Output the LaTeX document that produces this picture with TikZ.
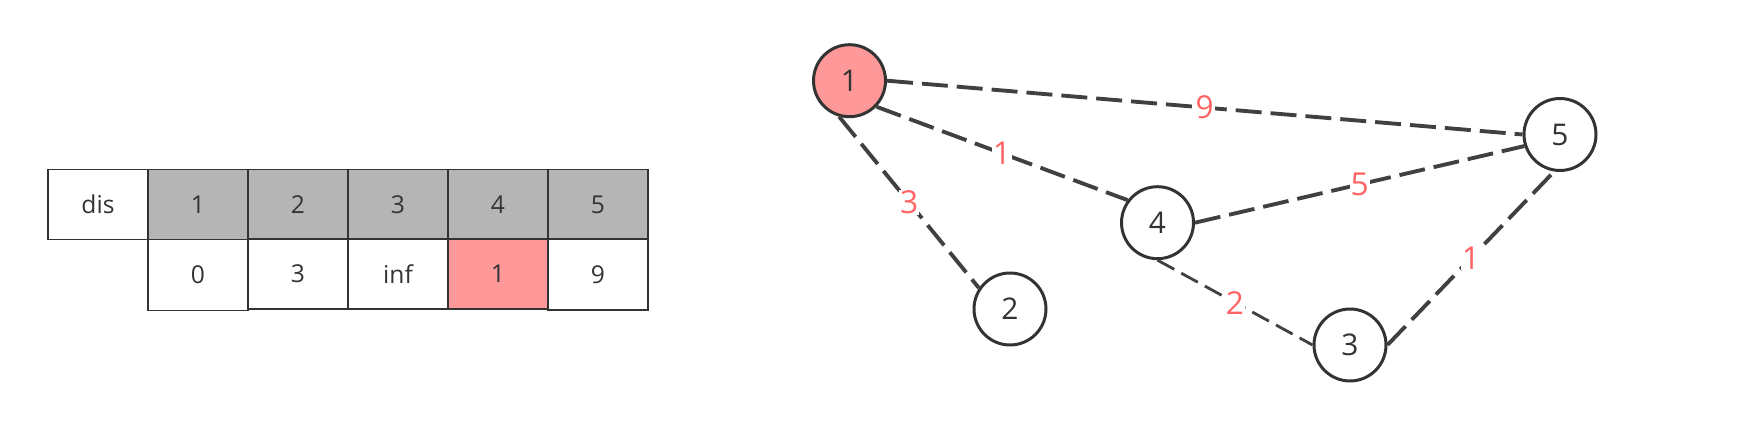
\documentclass[tikz,border=0pt]{standalone}
\usepackage{fontspec}
\setmainfont{Open Sans}
\usetikzlibrary{positioning}
\definecolor{ink}{RGB}{51,51,51}
\definecolor{edgegray}{RGB}{64,64,64}
\definecolor{headgray}{RGB}{181,181,181}
\definecolor{rose}{RGB}{255,153,153}
\definecolor{labred}{RGB}{255,99,99}
\tikzset{
  cell/.style={draw=ink,line width=0.85pt,fill=#1,minimum width=2cm,minimum height=1.4cm,
    inner sep=0pt,text=ink,font=\fontsize{14}{16}\selectfont},
  cell/.default=white,
  vertex/.style={circle,draw=ink,line width=1.7pt,fill=#1,minimum size=1.44cm,inner sep=0pt,
    text=ink,font=\fontsize{17}{20}\selectfont},
  vertex/.default=white,
  link/.style={draw=edgegray,line width=2.2pt,dash pattern=on 0.52cm off 0.18cm},
  weight/.style={fill=white,inner sep=0.5pt,text=labred,font=\fontsize{18}{20}\selectfont},
}

\begin{document}
\begin{tikzpicture}[x=0.02cm,y=-0.02cm]
  \useasboundingbox (0,0) rectangle (1737,421);
  % distance table
  \node[cell] (dis) at (98,204.6) {dis};
  \foreach \i in {1,...,5}
    \node[cell=headgray] (h\i) at (98+100*\i,204.6) {\i};
  \node[cell,minimum height=1.43cm] (d1) at (198,275) {0};
  \node[cell] (d2) at (298,274) {3};
  \node[cell] (d3) at (398,274) {inf};
  \node[cell=rose] (d4) at (498,274) {1};
  \node[cell,minimum height=1.42cm] (d5) at (598,274.6) {9};

  % graph
  \node[vertex=rose] (n1) at (849.5,80.7) {1};
  \node[vertex] (n2) at (1010,309) {2};
  \node[vertex] (n3) at (1350,345) {3};
  \node[vertex] (n4) at (1157.5,222.7) {4};
  \node[vertex] (n5) at (1560,134.5) {5};

  \draw[link] (n1.east) -- node[weight] {9} (n5.west);
  \draw[link] (n1.-44) -- node[weight] {1} (n4.143);
  \draw[link] (n1.-106) -- node[weight] {3} (n2.146);
  \draw[link] (n4.east) -- node[weight] {5} (n5.198);
  \draw[link,line width=1.6pt,dash pattern=on 0.38cm off 0.16cm] (n4.south) -- node[weight] {2} (n3.west);
  \draw[link] (n3.east) -- node[weight] {1} (n5.-99);
\end{tikzpicture}
\end{document}
